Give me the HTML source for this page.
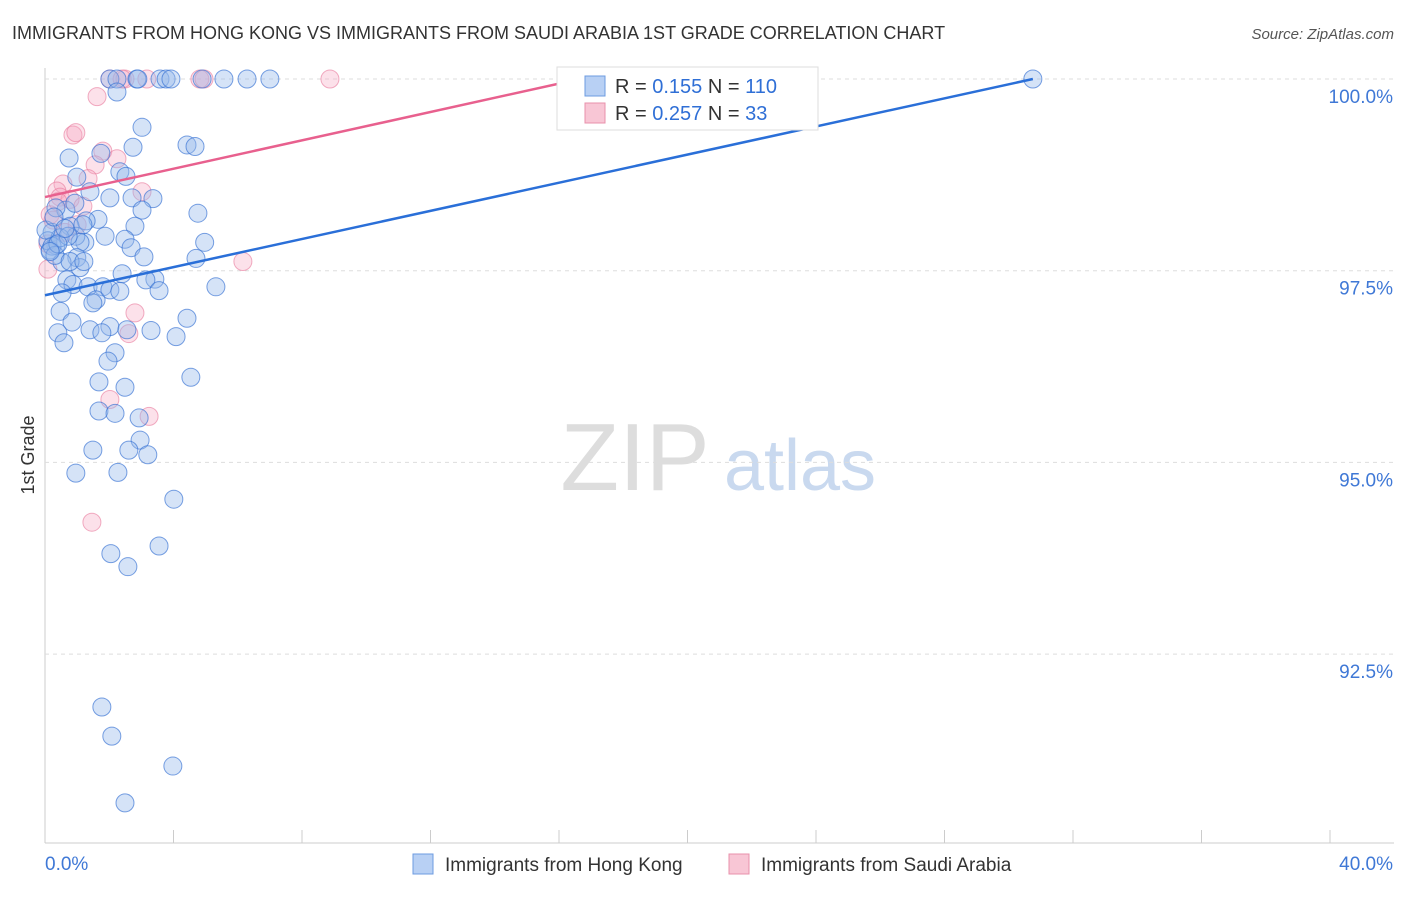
<!DOCTYPE html>
<html><head><meta charset="utf-8"><style>
body{margin:0;background:#fff;font-family:"Liberation Sans",sans-serif}
svg text{font-family:"Liberation Sans",sans-serif}
</style></head><body>
<svg id="c" width="1406" height="892">
<text x="12" y="39" font-size="18" fill="#333">IMMIGRANTS FROM HONG KONG VS IMMIGRANTS FROM SAUDI ARABIA 1ST GRADE CORRELATION CHART</text>
<text x="1394" y="39" font-size="15" fill="#555" text-anchor="end" font-style="italic">Source: ZipAtlas.com</text>
<text x="34" y="455" font-size="18" fill="#333" transform="rotate(-90 34 455)" text-anchor="middle">1st Grade</text>
<g><text x="635" y="490" font-size="96" fill="#ddd" font-family="Liberation Serif" text-anchor="middle">ZIP</text><text x="800" y="490" font-size="72" fill="#c9d9ef" text-anchor="middle">atlas</text></g>
<g id="grid"></g><g id="pts"></g><g id="lines"></g>
<g>
<rect x="557" y="67" width="261" height="63" fill="#fff" stroke="#ddd"/>
<rect x="585" y="76" width="20" height="20" fill="#b8d0f4" stroke="#6d9be0"/>
<rect x="585" y="103" width="20" height="20" fill="#f8c6d5" stroke="#e890ab"/>
<text x="615" y="93" font-size="20" fill="#333">R = <tspan fill="#2f6fd6">0.155</tspan>   N = <tspan fill="#2f6fd6">110</tspan></text>
<text x="615" y="120" font-size="20" fill="#333">R = <tspan fill="#2f6fd6">0.257</tspan>   N =  <tspan fill="#2f6fd6"> 33</tspan></text>
</g>
<g>
<rect x="413" y="854" width="20" height="20" fill="#b8d0f4" stroke="#6d9be0"/>
<text x="445" y="871" font-size="19" fill="#333">Immigrants from Hong Kong</text>
<rect x="729" y="854" width="20" height="20" fill="#f8c6d5" stroke="#e890ab"/>
<text x="761" y="871" font-size="19" fill="#333">Immigrants from Saudi Arabia</text>
</g>
</svg>
<script>
const yTicks=[100,97.5,95,92.5];
const yTickLabels=["100.0%","97.5%","95.0%","92.5%"];
const xTickLabels=["0.0%","40.0%"];
const blueX=[2.02,2.24,2.86,2.89,3.58,3.77,3.92,4.89,5.57,6.29,7.00,30.75,2.24,3.02,4.42,2.74,4.67,1.74,0.75,2.33,2.52,0.99,2.02,2.71,3.36,4.76,3.02,0.65,0.34,1.65,1.28,2.80,0.78,0.22,1.87,1.24,0.96,2.49,1.09,4.97,0.34,2.68,0.16,3.08,0.99,0.53,4.70,1.09,2.40,0.68,3.42,3.14,0.87,1.34,1.80,3.55,5.32,1.59,1.49,0.47,4.42,0.84,1.40,2.02,2.55,3.30,1.77,0.40,4.08,0.59,2.18,1.96,4.54,1.68,2.49,1.68,2.18,2.93,2.96,1.49,2.61,3.20,0.96,2.27,4.01,3.55,2.05,2.58,1.77,2.08,3.98,2.49,0.09,0.22,0.47,0.03,0.31,0.78,1.21,0.53,2.02,2.33,0.93,1.40,0.72,1.18,0.40,0.16,0.28,0.62];
const blueY=[100,100,100,100,100,100,100,100,100,100,100,100,99.83,99.37,99.14,99.11,99.12,99.03,98.97,98.79,98.73,98.72,98.45,98.45,98.44,98.25,98.29,98.29,98.32,98.17,98.15,98.08,98.08,98.00,97.95,97.87,97.95,97.91,97.87,97.87,97.83,97.80,97.77,97.68,97.67,97.61,97.66,97.54,97.46,97.38,97.39,97.38,97.32,97.29,97.29,97.24,97.29,97.12,97.08,96.97,96.88,96.83,96.73,96.77,96.73,96.72,96.69,96.69,96.64,96.56,96.43,96.32,96.11,96.05,95.98,95.67,95.64,95.58,95.29,95.16,95.16,95.10,94.86,94.87,94.52,93.91,93.81,93.64,91.81,91.43,91.04,90.56,97.89,97.82,97.93,98.03,97.70,97.62,97.62,97.21,97.25,97.23,98.38,98.53,97.95,98.10,97.85,97.75,98.20,98.05];
const pinkX=[2.02,2.49,3.17,4.82,4.95,8.87,1.62,2.40,0.87,0.96,1.80,2.24,1.56,1.34,0.56,0.37,0.47,0.78,1.18,0.16,0.25,0.09,0.09,0.62,3.02,6.16,2.80,2.61,3.24,1.46,2.02,0.40,1.00];
const pinkY=[100,100,100,100,100,100,99.77,100,99.27,99.30,99.06,98.96,98.88,98.70,98.63,98.54,98.46,98.43,98.34,98.23,98.16,97.85,97.52,98.00,98.53,97.62,96.95,96.68,95.60,94.22,95.82,98.40,98.10];
const blueLine=[[0,97.18],[30.75,100]];
const pinkLine=[[0,98.46],[16.65,100]];
const NS="http://www.w3.org/2000/svg";
const X0=45,X1=1330,Y100=79,PPY=191.7/2.5;
const sx=v=>X0+(v/40)*(X1-X0);
const sy=v=>Y100+(100-v)*PPY;
function mk(tag,attrs,parent){const e=document.createElementNS(NS,tag);for(const k in attrs)e.setAttribute(k,attrs[k]);parent.appendChild(e);return e;}
const grid=document.getElementById('grid');
const ax=mk('line',{x1:45,y1:68,x2:45,y2:843,stroke:'#ccc'},grid);


const bx=mk('line',{x1:45,y1:843,x2:1394,y2:843,stroke:'#ccc'},grid);


for(let i=0;i<=10;i++){const t=mk('line',{x1:sx(i*4),x2:sx(i*4),y1:830,y2:843,stroke:'#ccc'},grid);

}
yTicks.forEach((v,i)=>{const g=mk('line',{x1:45,x2:1394,y1:sy(v),y2:sy(v),stroke:'#ddd','stroke-dasharray':'4 4'},grid);


const t=mk('text',{x:1393,y:sy(v)+24,'font-size':19,fill:'#3f78d6','text-anchor':'end'},grid);t.textContent=yTickLabels[i];

});
[[0,45,'start'],[40,1393,'end']].forEach((a,i)=>{const t=mk('text',{x:a[1],y:870,'font-size':19,fill:'#3f78d6','text-anchor':a[2]},grid);t.textContent=xTickLabels[i];

});
const pts=document.getElementById('pts');
pinkX.forEach((v,i)=>{const c=mk('circle',{cx:sx(v),cy:sy(pinkY[i]),r:9,fill:'rgba(246,170,195,0.35)',stroke:'rgba(232,120,155,0.6)'},pts);

});
blueX.forEach((v,i)=>{const c=mk('circle',{cx:sx(v),cy:sy(blueY[i]),r:9,fill:'rgba(150,185,235,0.4)',stroke:'rgba(50,110,210,0.65)'},pts);

});
const lines=document.getElementById('lines');
const bl=mk('line',{x1:sx(blueLine[0][0]),y1:sy(blueLine[0][1]),x2:sx(blueLine[1][0]),y2:sy(blueLine[1][1]),stroke:'#2a6fd8','stroke-width':2.5},lines);


const pl=mk('line',{x1:sx(pinkLine[0][0]),y1:sy(pinkLine[0][1]),x2:sx(pinkLine[1][0]),y2:sy(pinkLine[1][1]),stroke:'#e8608e','stroke-width':2.5},lines);


</script>
</body></html>
